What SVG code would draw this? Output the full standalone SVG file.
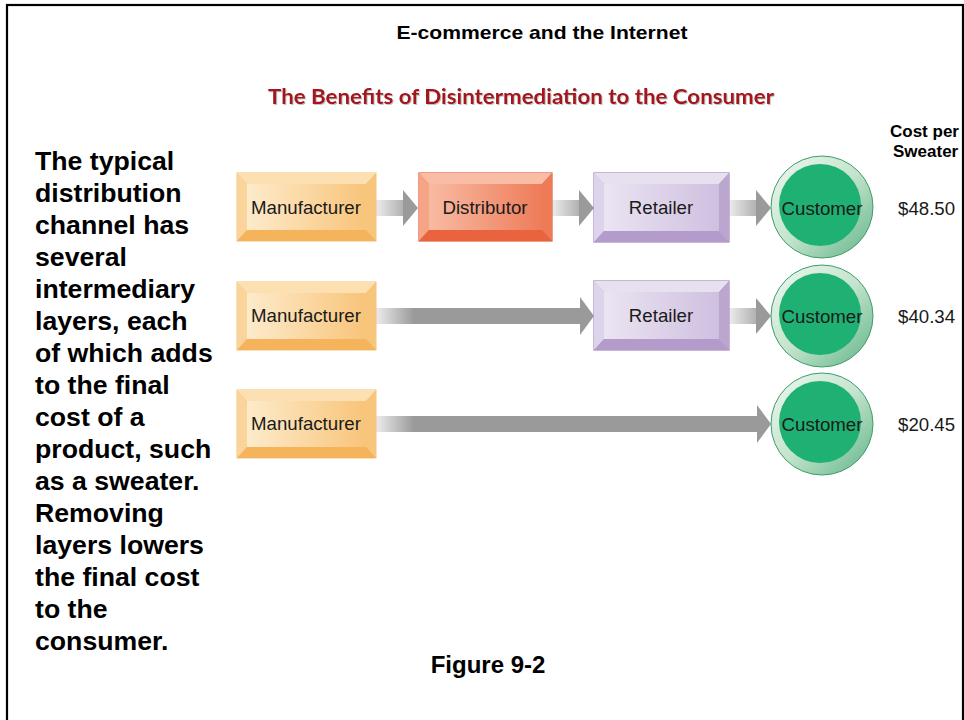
<svg xmlns="http://www.w3.org/2000/svg" width="964" height="720" viewBox="0 0 964 720">
<style>
.lbl{font-family:"Liberation Sans",Arial,sans-serif;font-size:18.67px;fill:#1a1a1a;text-anchor:middle}
.price{font-family:"Liberation Sans",Arial,sans-serif;font-size:18.67px;fill:#1a1a1a}
.side{font-family:"Liberation Sans",Arial,sans-serif;font-size:26.67px;font-weight:bold;fill:#000}
.hd{font-family:"Liberation Sans",Arial,sans-serif;font-weight:bold;fill:#000}
.arrowHead{fill:#9a9a9a}
</style>
<defs>
<filter id="sh" x="-5%" y="-20%" width="110%" height="140%"><feDropShadow dx="1" dy="1" stdDeviation="0.6" flood-color="#888" flood-opacity="0.5"/></filter>
<linearGradient id="faceM" x1="0" y1="0" x2="1" y2="0"><stop offset="0" stop-color="#fdebcb"/><stop offset="1" stop-color="#f8c47a"/></linearGradient>
<linearGradient id="faceD" x1="0" y1="0" x2="1" y2="0"><stop offset="0" stop-color="#f8bba2"/><stop offset="1" stop-color="#ee7c5a"/></linearGradient>
<linearGradient id="faceR" x1="0" y1="0" x2="1" y2="0"><stop offset="0" stop-color="#ebe4f2"/><stop offset="1" stop-color="#cfc0e0"/></linearGradient>
<linearGradient id="ring" x1="0" y1="0" x2="1" y2="1"><stop offset="0" stop-color="#eef8f1"/><stop offset="0.5" stop-color="#c4e4cd"/><stop offset="1" stop-color="#5fb487"/></linearGradient>
<linearGradient id="gM" gradientUnits="userSpaceOnUse" x1="376" y1="0" x2="414" y2="0"><stop offset="0" stop-color="#ececec"/><stop offset="1" stop-color="#9a9a9a"/></linearGradient>
<linearGradient id="gD" gradientUnits="userSpaceOnUse" x1="552" y1="0" x2="590" y2="0"><stop offset="0" stop-color="#ececec"/><stop offset="1" stop-color="#9a9a9a"/></linearGradient>
<linearGradient id="gR" gradientUnits="userSpaceOnUse" x1="729" y1="0" x2="767" y2="0"><stop offset="0" stop-color="#ececec"/><stop offset="1" stop-color="#9a9a9a"/></linearGradient>
<g id="boxM">
<rect x="0" y="0" width="139" height="68" fill="#f6bf6e" stroke="#f3c27c" stroke-width="1"/>
<polygon points="0,0 139,0 129,11 10,11" fill="#fde0b2"/>
<polygon points="0,0 10,11 10,57 0,68" fill="#fbd49c"/>
<polygon points="139,0 139,68 129,57 129,11" fill="#f7c57c"/>
<polygon points="0,68 10,57 129,57 139,68" fill="#f5b45c"/>
<rect x="10" y="11" width="119" height="46" fill="url(#faceM)"/>
</g>
<g id="boxD">
<rect x="0" y="0" width="133" height="68" fill="#ec7554" stroke="#e05a38" stroke-width="1.2"/>
<polygon points="0,0 133,0 123,11 10,11" fill="#f9bda5"/>
<polygon points="0,0 10,11 10,57 0,68" fill="#f5a585"/>
<polygon points="133,0 133,68 123,57 123,11" fill="#ee7a58"/>
<polygon points="0,68 10,57 123,57 133,68" fill="#e8633e"/>
<rect x="10" y="11" width="113" height="46" fill="url(#faceD)"/>
</g>
<g id="boxR">
<rect x="0" y="0" width="135" height="69" fill="#c3b1d6" stroke="#a089bb" stroke-width="1.2"/>
<polygon points="0,0 135,0 125,11 10,11" fill="#e7e0ef"/>
<polygon points="0,0 10,11 10,58 0,69" fill="#ddd3ea"/>
<polygon points="135,0 135,69 125,58 125,11" fill="#bba6cf"/>
<polygon points="0,69 10,58 125,58 135,69" fill="#b39bcb"/>
<rect x="10" y="11" width="115" height="47" fill="url(#faceR)"/>
</g>
<g id="cust">
<circle cx="0" cy="0" r="51" fill="url(#ring)" stroke="#3e9d6a" stroke-width="1"/>
<circle cx="-2" cy="-2" r="41" fill="#1fb173"/>
</g>
</defs>
<rect width="964" height="720" fill="#fff"/>

<g id="titles">
<text class="hd" x="542" y="39" font-size="19" text-anchor="middle" textLength="291" lengthAdjust="spacingAndGlyphs">E-commerce and the Internet</text>
<text x="521" y="104" font-family="Lato,'Open Sans',sans-serif" font-weight="bold" font-size="20" fill="#a3121a" text-anchor="middle" textLength="506" lengthAdjust="spacingAndGlyphs" filter="url(#sh)">The Benefits of Disintermediation to the Consumer</text>
<text class="hd" x="890" y="137" font-size="17">Cost per</text>
<text class="hd" x="893" y="157" font-size="17">Sweater</text>
<text class="hd" x="488" y="673" font-size="24" text-anchor="middle">Figure 9-2</text>
</g>

<g id="description">
<text class="side" x="35" y="170">The typical</text>
<text class="side" x="35" y="202">distribution</text>
<text class="side" x="35" y="234">channel has</text>
<text class="side" x="35" y="266">several</text>
<text class="side" x="35" y="298">intermediary</text>
<text class="side" x="35" y="330">layers, each</text>
<text class="side" x="35" y="362">of which adds</text>
<text class="side" x="35" y="394">to the final</text>
<text class="side" x="35" y="426">cost of a</text>
<text class="side" x="35" y="458">product, such</text>
<text class="side" x="35" y="490">as a sweater.</text>
<text class="side" x="35" y="522">Removing</text>
<text class="side" x="35" y="554">layers lowers</text>
<text class="side" x="35" y="586">the final cost</text>
<text class="side" x="35" y="618">to the</text>
<text class="side" x="35" y="650">consumer.</text>
</g>

<g id="connectors">
<rect x="376" y="200" width="28" height="16" fill="url(#gM)"/>
<polygon class="arrowHead" points="403,190 418,208 403,226"/>
<rect x="552" y="200" width="28" height="16" fill="url(#gD)"/>
<polygon class="arrowHead" points="579,190 594,208 579,226"/>
<rect x="729" y="200" width="28" height="16" fill="url(#gR)"/>
<polygon class="arrowHead" points="756,190 771,208 756,226"/>
<rect x="376" y="308" width="205" height="16" fill="url(#gM)"/>
<polygon class="arrowHead" points="580,297 594,316 580,335"/>
<rect x="729" y="308" width="28" height="16" fill="url(#gR)"/>
<polygon class="arrowHead" points="756,298 771,316 756,334"/>
<rect x="376" y="416" width="382" height="16" fill="url(#gM)"/>
<polygon class="arrowHead" points="757,405 771,424 757,443"/>
</g>

<g id="manufacturer1"><use href="#boxM" x="237" y="173"/><text class="lbl" x="306" y="214">Manufacturer</text></g>
<g id="distributor1"><use href="#boxD" x="419" y="173"/><text class="lbl" x="485" y="214">Distributor</text></g>
<g id="retailer1"><use href="#boxR" x="594" y="173"/><text class="lbl" x="661" y="214">Retailer</text></g>
<g id="customer1"><use href="#cust" x="822" y="207"/><text class="lbl" x="822" y="215">Customer</text></g>
<g id="price1"><text class="price" x="898" y="215">$48.50</text></g>

<g id="manufacturer2"><use href="#boxM" x="237" y="282"/><text class="lbl" x="306" y="322">Manufacturer</text></g>
<g id="retailer2"><use href="#boxR" x="594" y="281"/><text class="lbl" x="661" y="322">Retailer</text></g>
<g id="customer2"><use href="#cust" x="822" y="316"/><text class="lbl" x="822" y="323">Customer</text></g>
<g id="price2"><text class="price" x="898" y="323">$40.34</text></g>

<g id="manufacturer3"><use href="#boxM" x="237" y="390"/><text class="lbl" x="306" y="430">Manufacturer</text></g>
<g id="customer3"><use href="#cust" x="822" y="424"/><text class="lbl" x="822" y="431">Customer</text></g>
<g id="price3"><text class="price" x="898" y="431">$20.45</text></g>

<rect id="frame" x="7" y="5" width="956" height="740" fill="none" stroke="#000" stroke-width="2.2"/>
</svg>
